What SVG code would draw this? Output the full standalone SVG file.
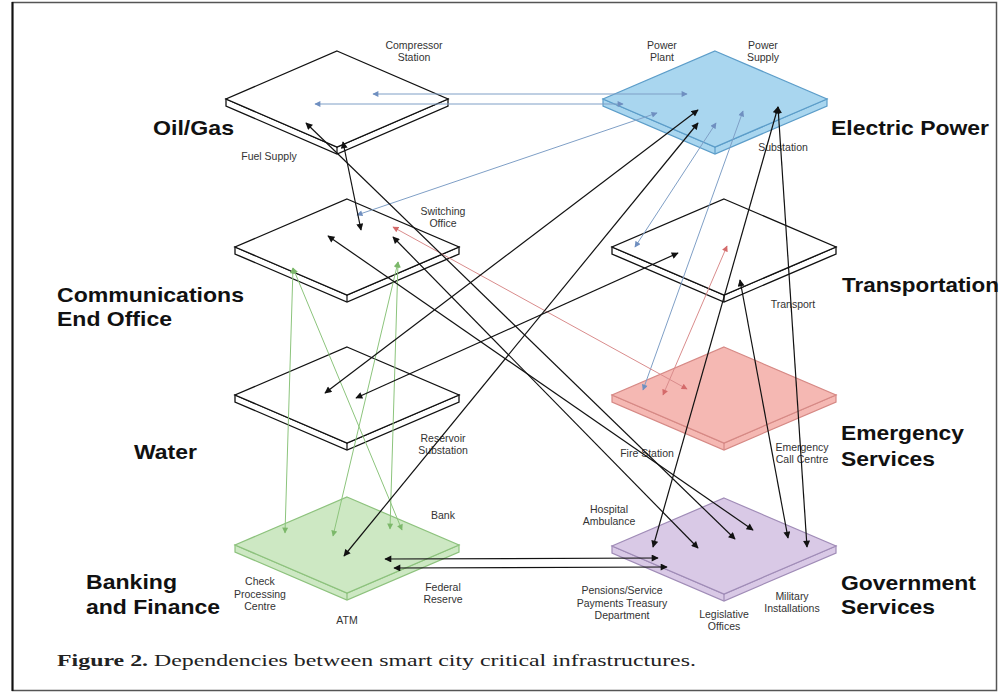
<svg xmlns="http://www.w3.org/2000/svg" width="1001" height="695" viewBox="0 0 1001 695">
<style>
.plate-w .side,.plate-w .top{fill:#fff;stroke:#111;stroke-width:1.3}
.plate-b .side,.plate-b .top{fill:#a9d6ef;stroke:#5c9dc9;stroke-width:1.2}
.plate-r .side,.plate-r .top{fill:#f5b8b3;stroke:#d68985;stroke-width:1.2}
.plate-g .side,.plate-g .top{fill:#cde8c3;stroke:#8dc27d;stroke-width:1.2}
.plate-p .side,.plate-p .top{fill:#d9c9e6;stroke:#a08cb7;stroke-width:1.2}
.big{font-family:"Liberation Sans",Arial,sans-serif;font-weight:bold;font-size:21px;fill:#111}
.sm{font-family:"Liberation Sans",Arial,sans-serif;font-size:10.5px;fill:#333;text-anchor:middle}
.k{stroke:#111;stroke-width:1.2;fill:none;marker-start:url(#ak);marker-end:url(#ak)}
.bl{stroke:#7f9fc6;stroke-width:1;fill:none;marker-start:url(#ab);marker-end:url(#ab)}
.rd{stroke:#d98c8c;stroke-width:1;fill:none;marker-start:url(#ar);marker-end:url(#ar)}
.gr{stroke:#8cc47c;stroke-width:1;fill:none;marker-start:url(#ag);marker-end:url(#ag)}
.cap{font-family:"Liberation Serif","Times New Roman",serif;font-size:17px;fill:#222}
</style>
<defs>
<marker id="ak" viewBox="0 0 10 10" refX="9" refY="5" markerWidth="8" markerHeight="7" markerUnits="userSpaceOnUse" orient="auto-start-reverse"><path d="M0,0L10,5L0,10z" fill="#111"/></marker>
<marker id="ab" viewBox="0 0 10 10" refX="9" refY="5" markerWidth="7" markerHeight="6" markerUnits="userSpaceOnUse" orient="auto-start-reverse"><path d="M0,0L10,5L0,10z" fill="#6f8fc0"/></marker>
<marker id="ar" viewBox="0 0 10 10" refX="9" refY="5" markerWidth="7" markerHeight="6" markerUnits="userSpaceOnUse" orient="auto-start-reverse"><path d="M0,0L10,5L0,10z" fill="#d46a6a"/></marker>
<marker id="ag" viewBox="0 0 10 10" refX="9" refY="5" markerWidth="7" markerHeight="6" markerUnits="userSpaceOnUse" orient="auto-start-reverse"><path d="M0,0L10,5L0,10z" fill="#7cb86a"/></marker>
</defs>
<rect x="0" y="0" width="1001" height="695" fill="#fff"/>
<rect x="12.5" y="2.5" width="984" height="688" fill="none" stroke="#555" stroke-width="1.5"/>
<line x1="12.5" y1="2" x2="12.5" y2="691" stroke="#111" stroke-width="2"/>

<g id="oil-gas" class="plate-w">
<polygon class="side" points="226,99 337,147 448,99 448,106 337,154 226,106"/>
<polygon class="top" points="337,51 448,99 337,147 226,99"/>
<line x1="337" y1="147" x2="337" y2="154" stroke="#111" stroke-width="1.2"/>
<text class="big" x="153" y="135" textLength="81" lengthAdjust="spacingAndGlyphs">Oil/Gas</text>
<text class="sm" x="414" y="49">Compressor</text>
<text class="sm" x="414" y="61">Station</text>
<text class="sm" x="269" y="160">Fuel Supply</text>
</g>

<g id="electric-power" class="plate-b">
<polygon class="side" points="603,99 715,147 827,99 827,106 715,154 603,106"/>
<polygon class="top" points="715,51 827,99 715,147 603,99"/>
<line x1="715" y1="147" x2="715" y2="154" stroke="#5c9dc9" stroke-width="1.2"/>
<text class="big" x="831" y="135" textLength="158" lengthAdjust="spacingAndGlyphs">Electric Power</text>
<text class="sm" x="662" y="49">Power</text>
<text class="sm" x="662" y="61">Plant</text>
<text class="sm" x="763" y="49">Power</text>
<text class="sm" x="763" y="61">Supply</text>
<text class="sm" x="783" y="151">Substation</text>
</g>

<g id="communications" class="plate-w">
<polygon class="side" points="235,247 347,295 459,247 459,254 347,302 235,254"/>
<polygon class="top" points="347,199 459,247 347,295 235,247"/>
<line x1="347" y1="295" x2="347" y2="302" stroke="#111" stroke-width="1.2"/>
<text class="big" x="57" y="302" textLength="187" lengthAdjust="spacingAndGlyphs">Communications</text>
<text class="big" x="57" y="326" textLength="115" lengthAdjust="spacingAndGlyphs">End Office</text>
<text class="sm" x="443" y="215">Switching</text>
<text class="sm" x="443" y="227">Office</text>
</g>

<g id="transportation" class="plate-w">
<polygon class="side" points="612,247 724,295 836,247 836,254 724,302 612,254"/>
<polygon class="top" points="724,199 836,247 724,295 612,247"/>
<line x1="724" y1="295" x2="724" y2="302" stroke="#111" stroke-width="1.2"/>
<text class="big" x="842" y="292" textLength="157" lengthAdjust="spacingAndGlyphs">Transportation</text>
<text class="sm" x="793" y="308">Transport</text>
</g>

<g id="water" class="plate-w">
<polygon class="side" points="235,395 347,443 459,395 459,402 347,450 235,402"/>
<polygon class="top" points="347,347 459,395 347,443 235,395"/>
<line x1="347" y1="443" x2="347" y2="450" stroke="#111" stroke-width="1.2"/>
<text class="big" x="134" y="459" textLength="63" lengthAdjust="spacingAndGlyphs">Water</text>
<text class="sm" x="443" y="442">Reservoir</text>
<text class="sm" x="443" y="454">Substation</text>
</g>

<g id="emergency-services" class="plate-r">
<polygon class="side" points="612,395 724,443 836,395 836,402 724,450 612,402"/>
<polygon class="top" points="724,347 836,395 724,443 612,395"/>
<line x1="724" y1="443" x2="724" y2="450" stroke="#d68985" stroke-width="1.2"/>
<text class="big" x="841" y="440" textLength="123" lengthAdjust="spacingAndGlyphs">Emergency</text>
<text class="big" x="841" y="466" textLength="94" lengthAdjust="spacingAndGlyphs">Services</text>
<text class="sm" x="647" y="457">Fire Station</text>
<text class="sm" x="802" y="451">Emergency</text>
<text class="sm" x="802" y="463">Call Centre</text>
</g>

<g id="banking-finance" class="plate-g">
<polygon class="side" points="235,545 347,593 459,545 459,552 347,600 235,552"/>
<polygon class="top" points="347,497 459,545 347,593 235,545"/>
<line x1="347" y1="593" x2="347" y2="600" stroke="#8dc27d" stroke-width="1.2"/>
<text class="big" x="86" y="589" textLength="91" lengthAdjust="spacingAndGlyphs">Banking</text>
<text class="big" x="86" y="614" textLength="134" lengthAdjust="spacingAndGlyphs">and Finance</text>
<text class="sm" x="443" y="519">Bank</text>
<text class="sm" x="260" y="585">Check</text>
<text class="sm" x="260" y="598">Processing</text>
<text class="sm" x="260" y="610">Centre</text>
<text class="sm" x="347" y="624">ATM</text>
<text class="sm" x="443" y="591">Federal</text>
<text class="sm" x="443" y="603">Reserve</text>
</g>

<g id="government-services" class="plate-p">
<polygon class="side" points="612,546 724,594 836,546 836,553 724,601 612,553"/>
<polygon class="top" points="724,498 836,546 724,594 612,546"/>
<line x1="724" y1="594" x2="724" y2="601" stroke="#a08cb7" stroke-width="1.2"/>
<text class="big" x="841" y="590" textLength="135" lengthAdjust="spacingAndGlyphs">Government</text>
<text class="big" x="841" y="614" textLength="94" lengthAdjust="spacingAndGlyphs">Services</text>
<text class="sm" x="609" y="513">Hospital</text>
<text class="sm" x="609" y="525">Ambulance</text>
<text class="sm" x="622" y="594">Pensions/Service</text>
<text class="sm" x="622" y="607">Payments Treasury</text>
<text class="sm" x="622" y="619">Department</text>
<text class="sm" x="724" y="618">Legislative</text>
<text class="sm" x="724" y="630">Offices</text>
<text class="sm" x="792" y="600">Military</text>
<text class="sm" x="792" y="612">Installations</text>
</g>

<g id="connectors">
<line class="bl" x1="373" y1="94" x2="687" y2="94"/>
<line class="bl" x1="315" y1="104" x2="623" y2="104"/>
<line class="bl" x1="357" y1="215" x2="657" y2="113"/>
<line class="bl" x1="716" y1="123" x2="635" y2="247"/>
<line class="bl" x1="743" y1="111" x2="643" y2="390"/>
<line class="rd" x1="393" y1="227" x2="687" y2="389"/>
<line class="rd" x1="727" y1="246" x2="663" y2="395"/>
<line class="gr" x1="293" y1="268" x2="285" y2="533"/>
<line class="gr" x1="293" y1="268" x2="402" y2="530"/>
<line class="gr" x1="398" y1="262" x2="390" y2="529"/>
<line class="gr" x1="398" y1="262" x2="333" y2="536"/>
<line class="k" x1="343" y1="142" x2="361" y2="230"/>
<line class="k" x1="306" y1="123" x2="735" y2="539"/>
<line class="k" x1="328" y1="236" x2="753" y2="530"/>
<line class="k" x1="393" y1="237" x2="698" y2="548"/>
<line class="k" x1="698" y1="110" x2="325" y2="393"/>
<line class="k" x1="698" y1="123" x2="344" y2="556"/>
<line class="k" x1="356" y1="398" x2="678" y2="253"/>
<line class="k" x1="778" y1="107" x2="653" y2="547"/>
<line class="k" x1="778" y1="107" x2="807" y2="547"/>
<line class="k" x1="740" y1="280" x2="788" y2="538"/>
<line class="k" x1="385" y1="559" x2="658" y2="558"/>
<line class="k" x1="394" y1="568" x2="667" y2="567"/>
</g>

<text class="cap" x="57" y="666" textLength="639" lengthAdjust="spacingAndGlyphs"><tspan font-weight="bold">Figure 2.</tspan> Dependencies between smart city critical infrastructures.</text>
</svg>
